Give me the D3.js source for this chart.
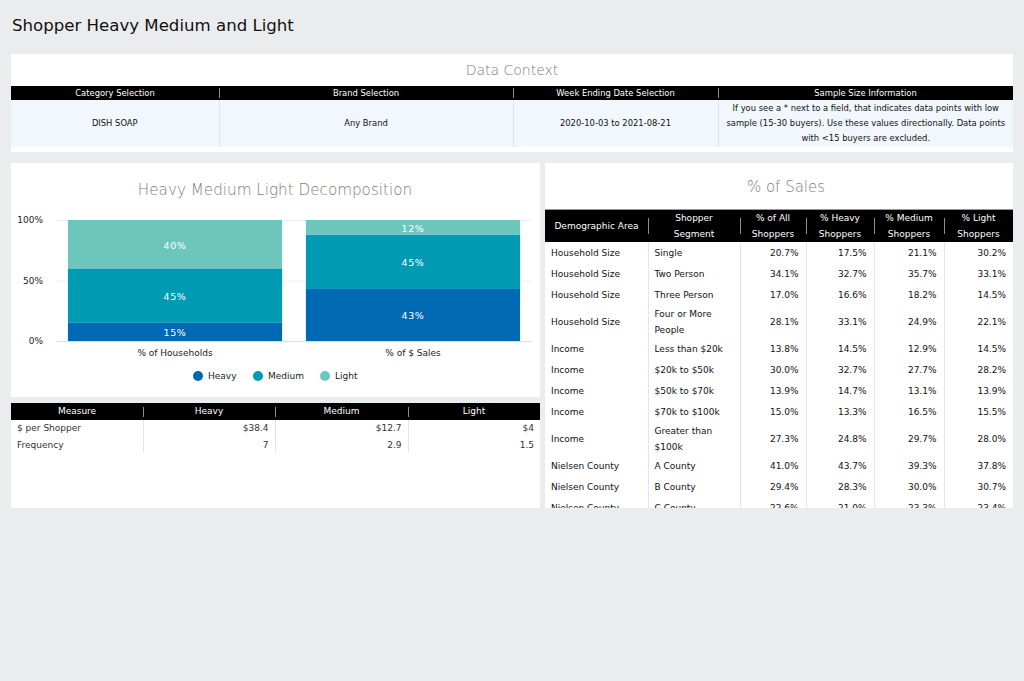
<!DOCTYPE html>
<html>
<head>
<meta charset="utf-8">
<script src="https://cdn.jsdelivr.net/npm/d3@7"></script>
<style>
  body { margin: 0; background: #ebecee; font-family: "DejaVu Sans", sans-serif; width: 1024px; height: 681px; position: relative; overflow: hidden; }
  .page-title { position: absolute; left: 12px; top: 16px; font-size: 16.6px; color: #111; }
  .panel { position: absolute; background: #fff; overflow: hidden; }
  .panel-title { position: absolute; left: 0; right: 0; text-align: center; color: #7c7c7c; font-weight: 300; }
  table { border-collapse: collapse; table-layout: fixed; position: absolute; left: 0; }
  th { background: #000; color: #fff; font-weight: normal; position: relative; padding: 0; text-align: center; }
  th + th::before { content: ""; position: absolute; left: 0; top: 50%; height: 10px; margin-top: -5px; border-left: 1px solid #8c8c8c; }
  td { padding: 0; color: #222; }
  td + td { border-left: 1px solid #e4e6e8; }
</style>
</head>
<body>
<div class="page-title">Shopper Heavy Medium and Light</div>
<script>
// ---- data ----
var contextHeaders = ["Category Selection", "Brand Selection", "Week Ending Date Selection", "Sample Size Information"];
var contextValues = ["DISH SOAP", "Any Brand", "2020-10-03 to 2021-08-21",
  "If you see a * next to a field, that indicates data points with low sample (15-30 buyers). Use these values directionally. Data points with <15 buyers are excluded."];

var segments = ["Heavy", "Medium", "Light"];
var barCategories = ["% of Households", "% of $ Sales"];
var heavyShare = [15, 43];
var mediumShare = [45, 45];
var lightShare = [40, 12];
var yTicks = [0, 50, 100];

var measureHeaders = ["Measure", "Heavy", "Medium", "Light"];
var measureNames = ["$ per Shopper", "Frequency"];
var dollarsPerShopper = [38.4, 12.7, 4];
var frequency = [7, 2.9, 1.5];

var salesHeaders = [["Demographic Area"], ["Shopper", "Segment"], ["% of All", "Shoppers"], ["% Heavy", "Shoppers"], ["% Medium", "Shoppers"], ["% Light", "Shoppers"]];
var demoArea = ["Household Size", "Household Size", "Household Size", "Household Size", "Income", "Income", "Income", "Income", "Income", "Nielsen County", "Nielsen County", "Nielsen County"];
var shopperSegment = ["Single", "Two Person", "Three Person", "Four or More People", "Less than $20k", "$20k to $50k", "$50k to $70k", "$70k to $100k", "Greater than $100k", "A County", "B County", "C County"];
var pctAll = [20.7, 34.1, 17.0, 28.1, 13.8, 30.0, 13.9, 15.0, 27.3, 41.0, 29.4, 22.6];
var pctHeavy = [17.5, 32.7, 16.6, 33.1, 14.5, 32.7, 14.7, 13.3, 24.8, 43.7, 28.3, 21.0];
var pctMedium = [21.1, 35.7, 18.2, 24.9, 12.9, 27.7, 13.1, 16.5, 29.7, 39.3, 30.0, 23.3];
var pctLight = [30.2, 33.1, 14.5, 22.1, 14.5, 28.2, 13.9, 15.5, 28.0, 37.8, 30.7, 23.4];

var colors = { Heavy: "#0069b4", Medium: "#009ab3", Light: "#6dc6bc" };

var body = d3.select("body");
function panel(x, y, w, h) {
  return body.append("div").attr("class", "panel")
    .style("left", x + "px").style("top", y + "px")
    .style("width", w + "px").style("height", h + "px");
}

// ---- Data Context panel ----
var p1 = panel(11, 54, 1002, 98);
p1.append("div").attr("class", "panel-title").style("top", "8px").style("font-size", "14px").text("Data Context");
var t1 = p1.append("table").style("top", "32px").style("width", "1002px").style("font-size", "8.4px");
var w1 = [208, 294, 205, 295];
t1.append("colgroup").selectAll("col").data(w1).join("col").style("width", function(d) { return d + "px"; });
t1.append("tr").selectAll("th").data(contextHeaders).join("th")
  .style("height", "14px").style("line-height", "14px")
  .text(function(d) { return d; });
t1.append("tr").selectAll("td").data(contextValues).join("td")
  .style("height", "47px").style("background", "#f1f7fd").style("text-align", "center")
  .style("line-height", "15px").style("padding", "0 5px").style("color", "#111")
  .style("border-left-color", "#dde4ea")
  .text(function(d) { return d; });

// ---- Decomposition chart panel ----
var p2 = panel(11, 163, 529, 234);
var W = 529, H = 234;
var svg = p2.append("svg").attr("width", W).attr("height", H)
  .style("font-family", "DejaVu Sans, sans-serif");

svg.append("text").attr("x", 264).attr("y", 27).attr("text-anchor", "middle")
  .attr("dominant-baseline", "central").attr("fill", "#7c7c7c").attr("font-weight", 300)
  .attr("font-size", 15.2).text("Heavy Medium Light Decomposition");

var x = d3.scaleBand().domain(barCategories).range([45, 521]).paddingInner(0.1).paddingOuter(0.05);
var y = d3.scaleLinear().domain([0, 100]).range([178, 57]);

var gridG = svg.append("g");
gridG.selectAll("line").data(yTicks).join("line")
  .attr("x1", 45).attr("x2", 521)
  .attr("y1", function(d) { return y(d) + 0.5; }).attr("y2", function(d) { return y(d) + 0.5; })
  .attr("stroke", function(d) { return d === 0 ? "#d8dde6" : "#eef0f4"; });

var yAxis = svg.append("g").attr("transform", "translate(35,0)")
  .call(d3.axisLeft(y).tickValues(yTicks).tickSize(0).tickFormat(function(d) { return d + "%"; }));
yAxis.select(".domain").remove();
yAxis.selectAll("text").attr("font-size", 9).attr("fill", "#222").attr("font-family", "DejaVu Sans, sans-serif");

var rows = barCategories.map(function(c, i) {
  return { cat: c, Heavy: heavyShare[i], Medium: mediumShare[i], Light: lightShare[i] };
});
var stack = d3.stack().keys(segments)(rows);

var layers = svg.append("g").selectAll("g").data(stack).join("g")
  .attr("fill", function(d) { return colors[d.key]; });
layers.selectAll("rect").data(function(d) { return d; }).join("rect")
  .attr("x", function(d) { return x(d.data.cat); })
  .attr("width", x.bandwidth())
  .attr("y", function(d) { return y(d[1]); })
  .attr("height", function(d) { return y(d[0]) - y(d[1]); });

layers.selectAll("text").data(function(d) { return d; }).join("text")
  .attr("x", function(d) { return x(d.data.cat) + x.bandwidth() / 2; })
  .attr("y", function(d) { return (y(d[0]) + y(d[1])) / 2 + 1; })
  .attr("text-anchor", "middle").attr("dominant-baseline", "central")
  .attr("fill", "#fff").attr("font-size", 9.5).attr("letter-spacing", 0.6)
  .text(function(d) { return (d[1] - d[0]) + "%"; });

var xAxis = svg.append("g").attr("transform", "translate(0,178)")
  .call(d3.axisBottom(x).tickSize(0).tickPadding(9));
xAxis.select(".domain").remove();
xAxis.selectAll("text").attr("font-size", 9).attr("fill", "#222").attr("font-family", "DejaVu Sans, sans-serif");

var legendX = [187, 247, 314];
var legend = svg.append("g").selectAll("g").data(segments).join("g")
  .attr("transform", function(d, i) { return "translate(" + legendX[i] + ",213)"; });
legend.append("circle").attr("r", 5).attr("fill", function(d) { return colors[d]; });
legend.append("text").attr("x", 10).attr("dominant-baseline", "central")
  .attr("font-size", 9).attr("fill", "#222").text(function(d) { return d; });

// ---- Measure table panel ----
var p3 = panel(11, 403, 529, 105);
var t3 = p3.append("table").style("top", "0px").style("width", "529px").style("font-size", "9px");
t3.append("colgroup").selectAll("col").data([132, 132, 133, 132]).join("col").style("width", function(d) { return d + "px"; });
t3.append("tr").selectAll("th").data(measureHeaders).join("th")
  .style("height", "17px").style("line-height", "17px").text(function(d) { return d; });
var measureRows = [
  [measureNames[0]].concat(dollarsPerShopper.map(function(v) { return "$" + v; })),
  [measureNames[1]].concat(frequency.map(function(v) { return String(v); }))
];
t3.selectAll("tr.mrow").data(measureRows).join("tr").attr("class", "mrow")
  .selectAll("td").data(function(d) { return d; }).join("td")
  .style("height", "16.5px").style("line-height", "16px").style("color", "#333")
  .style("text-align", function(d, i) { return i === 0 ? "left" : "right"; })
  .style("padding", function(d, i) { return i === 0 ? "0 6px" : "0 6px 0 0"; })
  .text(function(d) { return d; });

// ---- % of Sales panel ----
var p4 = panel(545, 163, 468, 345);
p4.append("div").attr("class", "panel-title").style("top", "15px").style("padding-left", "14px")
  .style("font-size", "15px").text("% of Sales");
var t4 = p4.append("table").style("top", "46px").style("width", "468px").style("font-size", "9px");
t4.append("colgroup").selectAll("col").data([103, 92, 66, 68, 70, 69]).join("col").style("width", function(d) { return d + "px"; });
t4.append("tr").attr("class", "hrow").selectAll("th").data(salesHeaders).join("th")
  .style("height", "31px").style("line-height", "16px").style("border-top", "1px solid #999")
  .html(function(d) { return d.join("<br>"); });
var pct = d3.format(".1f");
var salesRows = demoArea.map(function(a, i) {
  return [a, shopperSegment[i], pct(pctAll[i]) + "%", pct(pctHeavy[i]) + "%", pct(pctMedium[i]) + "%", pct(pctLight[i]) + "%"];
});
t4.selectAll("tr.srow").data(salesRows).join("tr").attr("class", "srow")
  .selectAll("td").data(function(d) { return d; }).join("td")
  .style("height", "21.3px").style("line-height", "16px").style("color", "#111")
  .style("text-align", function(d, i) { return i < 2 ? "left" : "right"; })
  .style("padding", function(d, i) { return i < 2 ? "0 6px 0 6px" : "0 7px 0 0"; })
  .text(function(d) { return d; });
</script>
<style>
  .hrow th + th::before { height: 16px; margin-top: -8px; }
</style>
</body>
</html>
